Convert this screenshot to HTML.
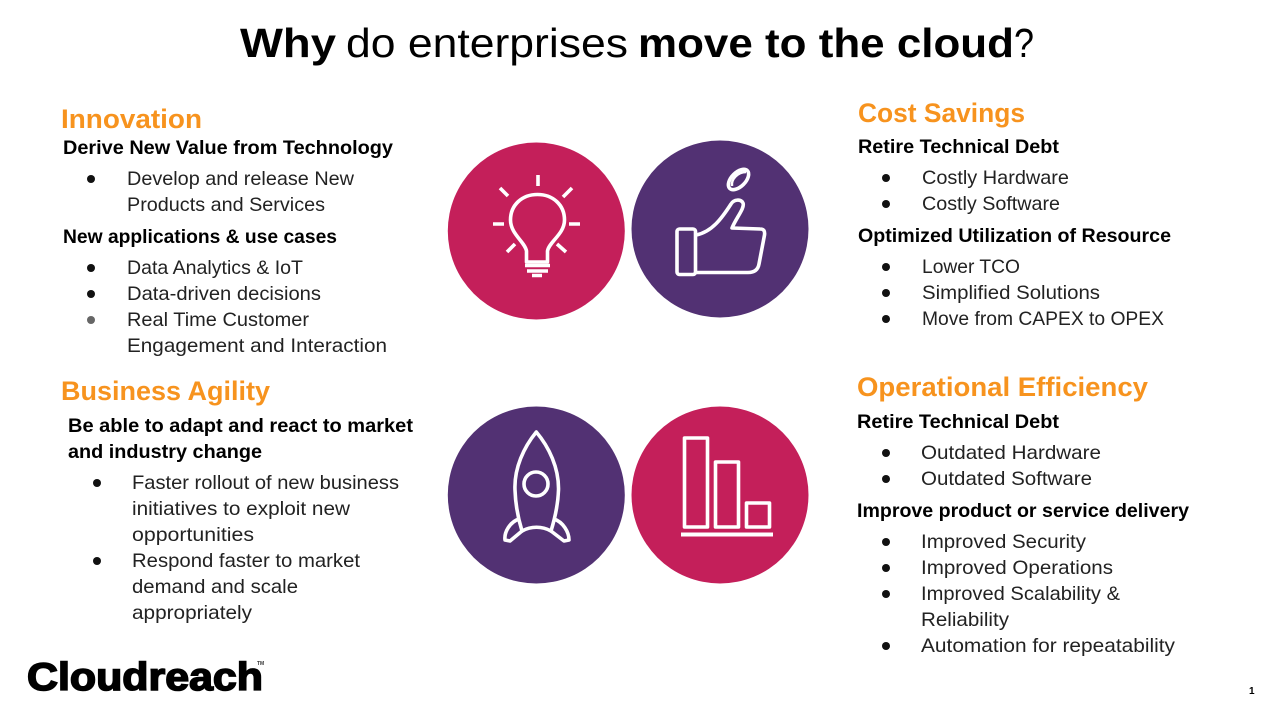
<!DOCTYPE html>
<html><head><meta charset="utf-8"><style>
html,body{margin:0;padding:0;background:#fff;width:1280px;height:720px;overflow:hidden}
svg{display:block}
text{font-family:"Liberation Sans",sans-serif;fill:#111}
.t{font-size:41px;fill:#000}
.h{font-size:27px;font-weight:bold;fill:#f7931e}
.b{font-size:19.5px;font-weight:bold;fill:#000}
.n{font-size:19.5px;fill:#222}
.i{fill:none;stroke:#fff;stroke-width:3.6;stroke-linejoin:round;stroke-linecap:butt}
</style></head><body>
<svg width="1280" height="720" viewBox="0 0 1280 720" xmlns="http://www.w3.org/2000/svg">
<g>
<text class="t" x="240" y="57" font-weight="bold" textLength="96" lengthAdjust="spacingAndGlyphs">Why</text>
<text class="t" x="346" y="57" textLength="282" lengthAdjust="spacingAndGlyphs">do enterprises</text>
<text class="t" x="638" y="57" font-weight="bold" textLength="376" lengthAdjust="spacingAndGlyphs">move to the cloud</text>
<text class="t" x="1014" y="57" textLength="20" lengthAdjust="spacingAndGlyphs">?</text>

<text class="h" x="61" y="128" textLength="141" lengthAdjust="spacingAndGlyphs">Innovation</text>
<text class="b" x="63" y="154" textLength="330" lengthAdjust="spacingAndGlyphs">Derive New Value from Technology</text>
<text class="n" x="127" y="185" textLength="227" lengthAdjust="spacingAndGlyphs">Develop and release New</text>
<text class="n" x="127" y="211" textLength="198" lengthAdjust="spacingAndGlyphs">Products and Services</text>
<text class="b" x="63" y="243" textLength="274" lengthAdjust="spacingAndGlyphs">New applications &amp; use cases</text>
<text class="n" x="127" y="274" textLength="176" lengthAdjust="spacingAndGlyphs">Data Analytics &amp; IoT</text>
<text class="n" x="127" y="300" textLength="194" lengthAdjust="spacingAndGlyphs">Data-driven decisions</text>
<text class="n" x="127" y="326" textLength="182" lengthAdjust="spacingAndGlyphs">Real Time Customer</text>
<text class="n" x="127" y="352" textLength="260" lengthAdjust="spacingAndGlyphs">Engagement and Interaction</text>

<text class="h" x="61" y="400" textLength="209" lengthAdjust="spacingAndGlyphs">Business Agility</text>
<text class="b" x="68" y="432" textLength="345" lengthAdjust="spacingAndGlyphs">Be able to adapt and react to market</text>
<text class="b" x="68" y="458" textLength="194" lengthAdjust="spacingAndGlyphs">and industry change</text>
<text class="n" x="132" y="489" textLength="267" lengthAdjust="spacingAndGlyphs">Faster rollout of new business</text>
<text class="n" x="132" y="515" textLength="218" lengthAdjust="spacingAndGlyphs">initiatives to exploit new</text>
<text class="n" x="132" y="541" textLength="122" lengthAdjust="spacingAndGlyphs">opportunities</text>
<text class="n" x="132" y="567" textLength="228" lengthAdjust="spacingAndGlyphs">Respond faster to market</text>
<text class="n" x="132" y="593" textLength="166" lengthAdjust="spacingAndGlyphs">demand and scale</text>
<text class="n" x="132" y="619" textLength="120" lengthAdjust="spacingAndGlyphs">appropriately</text>

<text class="h" x="858" y="122" textLength="167" lengthAdjust="spacingAndGlyphs">Cost Savings</text>
<text class="b" x="858" y="153" textLength="201" lengthAdjust="spacingAndGlyphs">Retire Technical Debt</text>
<text class="n" x="922" y="184" textLength="147" lengthAdjust="spacingAndGlyphs">Costly Hardware</text>
<text class="n" x="922" y="210" textLength="138" lengthAdjust="spacingAndGlyphs">Costly Software</text>
<text class="b" x="858" y="242" textLength="313" lengthAdjust="spacingAndGlyphs">Optimized Utilization of Resource</text>
<text class="n" x="922" y="273" textLength="98" lengthAdjust="spacingAndGlyphs">Lower TCO</text>
<text class="n" x="922" y="299" textLength="178" lengthAdjust="spacingAndGlyphs">Simplified Solutions</text>
<text class="n" x="922" y="325" textLength="242" lengthAdjust="spacingAndGlyphs">Move from CAPEX to OPEX</text>

<text class="h" x="857" y="396" textLength="291" lengthAdjust="spacingAndGlyphs">Operational Efficiency</text>
<text class="b" x="857" y="428" textLength="202" lengthAdjust="spacingAndGlyphs">Retire Technical Debt</text>
<text class="n" x="921" y="459" textLength="180" lengthAdjust="spacingAndGlyphs">Outdated Hardware</text>
<text class="n" x="921" y="485" textLength="171" lengthAdjust="spacingAndGlyphs">Outdated Software</text>
<text class="b" x="857" y="517" textLength="332" lengthAdjust="spacingAndGlyphs">Improve product or service delivery</text>
<text class="n" x="921" y="548" textLength="165" lengthAdjust="spacingAndGlyphs">Improved Security</text>
<text class="n" x="921" y="574" textLength="192" lengthAdjust="spacingAndGlyphs">Improved Operations</text>
<text class="n" x="921" y="600" textLength="199" lengthAdjust="spacingAndGlyphs">Improved Scalability &amp;</text>
<text class="n" x="921" y="626" textLength="88" lengthAdjust="spacingAndGlyphs">Reliability</text>
<text class="n" x="921" y="652" textLength="254" lengthAdjust="spacingAndGlyphs">Automation for repeatability</text>
</g>

<g fill="#111">
<circle cx="91" cy="179" r="4"/><circle cx="91" cy="268" r="4"/><circle cx="91" cy="294" r="4"/><circle cx="91" cy="320" r="4" fill="#666"/>
<circle cx="97" cy="483" r="4"/><circle cx="97" cy="561" r="4"/>
<circle cx="886" cy="178" r="4"/><circle cx="886" cy="204" r="4"/><circle cx="886" cy="267" r="4"/><circle cx="886" cy="293" r="4"/><circle cx="886" cy="319" r="4"/>
<circle cx="886" cy="453" r="4"/><circle cx="886" cy="479" r="4"/><circle cx="886" cy="542" r="4"/><circle cx="886" cy="568" r="4"/><circle cx="886" cy="594" r="4"/><circle cx="886" cy="646" r="4"/>
</g>

<circle cx="536.3" cy="231" r="88.5" fill="#c41f5a"/>
<circle cx="720" cy="229" r="88.5" fill="#523173"/>
<circle cx="536.3" cy="495" r="88.5" fill="#523173"/>
<circle cx="720" cy="495" r="88.5" fill="#c41f5a"/>

<!-- bulb -->
<path class="i" d="M526.5 262 V251 C525 242 510.5 234 510.5 220 C510.5 205 522 194.5 537.5 194.5 C553 194.5 564.5 205 564.5 220 C564.5 234 549 242 547.500 251 V262 Z"/>
<path class="i" d="M525 265.500H550M527 271H548M532 275.500H542"/>
<path class="i" d="M538 175V186M500 188L508 196M572 188L563 197M493 224H504M569 224H580M507 252L515 244M566 252L557 244"/>

<!-- thumb -->
<rect class="i" x="677" y="229" width="18.500" height="45.500" rx="2.500"/>
<path class="i" d="M696 235C712 232 722 218 731 204C734 199 741 199 743 203C745 208 736 218 732 228L760 229C764 229 765 231 764.500 235L759 264C758 270 754 272.500 748 272.500H696"/>
<ellipse class="i" cx="738.500" cy="179.500" rx="12.500" ry="7" transform="rotate(-45 738.500 179.500)"/>
<path class="i" d="M732 186C731 179 738 172 746 172" style="stroke-width:2.500"/>

<!-- rocket -->
<path class="i" d="M536.300 432C524 447 514 468 515 490C515.500 505 518 518 522 531C531 526 542 526 551 531C555 518 558 505 558.500 490C559 468 549 447 536.300 432Z"/>
<circle class="i" cx="536" cy="484" r="12"/>
<path class="i" d="M519 519C510 522 504 532 505 540L510 541L522 531M554 519C563 522 569 532 569 540L564 541L551 531"/>

<!-- bars -->
<rect class="i" x="684.500" y="438" width="23" height="89"/>
<rect class="i" x="715.500" y="462" width="23" height="65"/>
<rect class="i" x="746.500" y="503" width="23" height="24"/>
<rect x="681" y="532.500" width="92" height="4" fill="#fff"/>

<!-- logo -->
<text x="27" y="690" font-size="39" font-weight="bold" textLength="236" lengthAdjust="spacingAndGlyphs" style="fill:#000;stroke:#000;stroke-width:1.600">Cloudreach</text>
<text x="257" y="665" font-size="5" font-weight="bold" style="fill:#333">TM</text>
<text x="1249" y="694" font-size="10" font-weight="bold" style="fill:#000">1</text>
</svg>
</body></html>
